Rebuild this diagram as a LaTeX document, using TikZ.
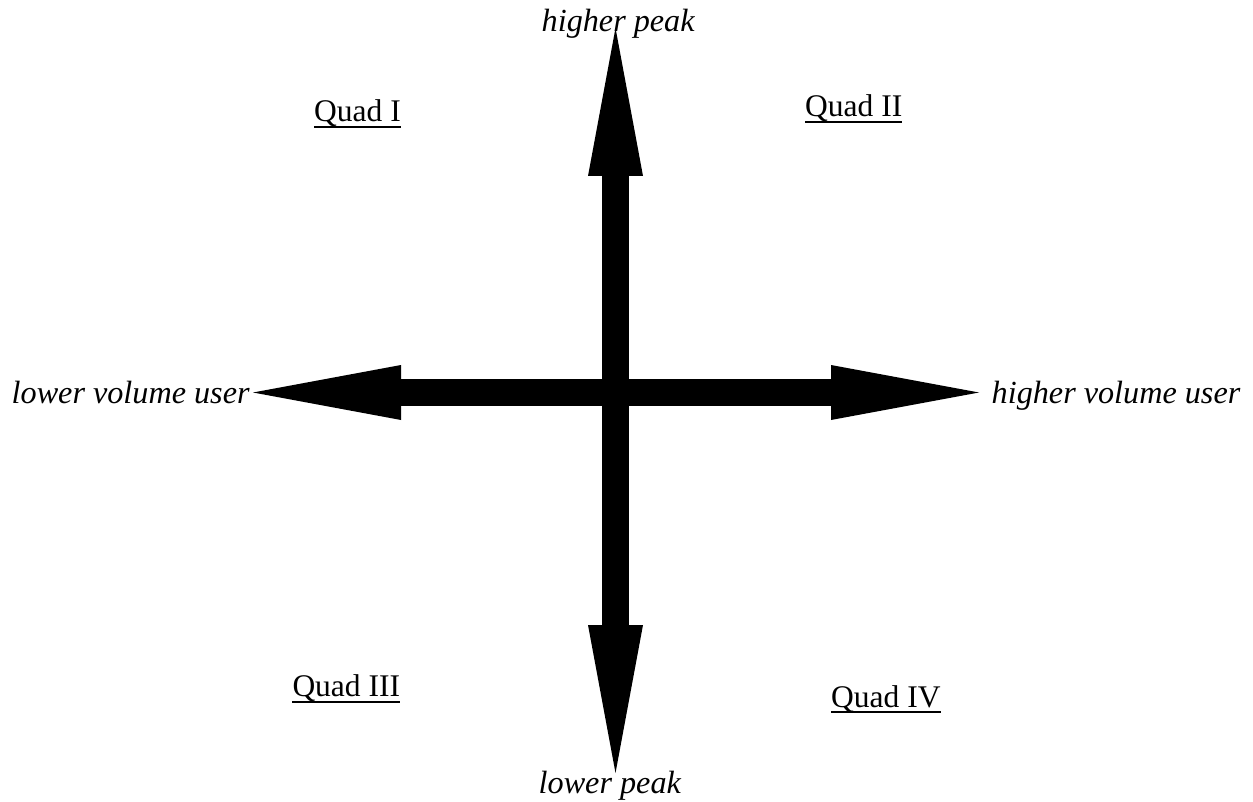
\documentclass[tikz,border=0pt]{standalone}
\usepackage{fontspec}
\setmainfont{Liberation Serif}
\usetikzlibrary{arrows.meta}
\begin{document}
\begin{tikzpicture}[x=1pt,y=-1pt,
  lbl/.style={inner sep=0pt,anchor=base west,font=\fontsize{32.2}{36}\selectfont\itshape},
  quad/.style={inner sep=0pt,anchor=base west,font=\fontsize{31.5}{36}\selectfont},
  uline/.style={line width=2pt},
  bigarrow/.style={line width=27.6pt,
    {Triangle[length=148pt,width=55pt,line width=0pt]}-{Triangle[length=148pt,width=55pt,line width=0pt]}}]
\useasboundingbox (0,0) rectangle (1253,802);
% axis tips
\coordinate (top) at (615.5,28);
\coordinate (bot) at (615.5,773);
\coordinate (lft) at (253,392.5);
\coordinate (rgt) at (979,392.5);
\draw[bigarrow] (bot) -- (top);
\draw[bigarrow] (lft) -- (rgt);
% axis labels
\node[lbl] (hp) at (541.5,31.7) {higher peak};
\node[lbl] (lp) at (538.5,793.3) {lower peak};
\node[lbl] (lv) at (11.5,403.3) {lower volume user};
\node[lbl] (hv) at (991.5,403.3) {higher volume user};
% quadrant labels
\node[quad] (q1) at (314,121.7) {Quad I};
\node[quad] (q2) at (805,116.7) {Quad II};
\node[quad] (q3) at (292.3,696.7) {Quad III};
\node[quad] (q4) at (831,707) {Quad IV};
\foreach \q in {q1,q2,q3,q4}
  \draw[uline] ([yshift=-5pt]\q.base west) -- ([yshift=-5pt]\q.base east);
\end{tikzpicture}
\end{document}
